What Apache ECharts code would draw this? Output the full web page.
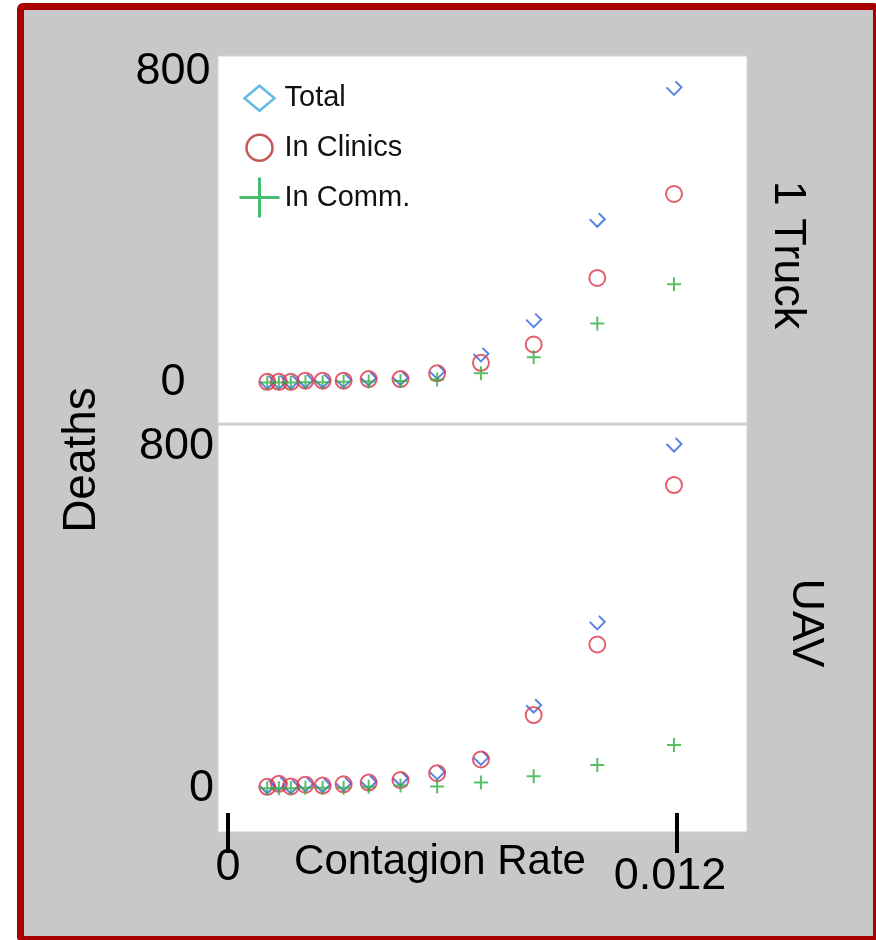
<!DOCTYPE html>
<html>
<head>
<meta charset="utf-8">
<script src="https://cdn.jsdelivr.net/npm/echarts@6.0.0/dist/echarts.min.js"></script>
<style>
  body { margin: 0; background: #fff; overflow: hidden; }
  #frame {
    position: absolute; left: 17px; top: 3px; width: 863px; height: 940px;
    box-sizing: border-box; border: 7px solid #a60000; border-radius: 6px;
    background: #c8c8ca;
  }
  #main { position: absolute; left: 0; top: 0; width: 876px; height: 940px; }
</style>
</head>
<body>
<div id="frame"></div>
<div id="main"></div>
<script>
// contagion rate (x) shared by both panels
var contagionRate = [0.00105, 0.00136, 0.00168, 0.00207, 0.00253, 0.00309, 0.00376, 0.00461, 0.00559, 0.00676, 0.00817, 0.00987, 0.01192];

// 1 Truck panel
var truckTotal   = [4, 4, 4, 7, 7, 8, 13, 14, 30, 75, 163, 421, 760];
var truckClinics = [3, 3, 3, 6, 6, 6, 10, 10, 25, 52, 99, 270, 486];
var truckComm    = [1, 1, 1, 2, 2, 3, 4, 5, 9, 25, 66, 153, 254];

// UAV panel
var uavTotal   = [7, 14, 7, 12, 10, 13, 17, 25, 40, 74, 196, 391, 807];
var uavClinics = [5, 12, 6, 10, 8, 11, 15, 21, 37, 69, 173, 338, 711];
var uavComm    = [2, 2, 2, 3, 3, 3, 5, 8, 6, 15, 30, 56, 103];

var yTicks = [0, 800];
var xTicks = [0, 0.012];

var font = 'Liberation Sans, Arial, sans-serif';

// marker shapes
var dataDiamond = 'path://M5,0M0,5L5,10L10,5L6,1';
var dataPlus = 'path://M0,5L10,5M5,0L5,10';
var legDiamond = 'path://M0,0M40,40M5,20L20,7.5L35,20L20,32.5Z';
var legCircle = 'path://M0,0M40,40M7,20A13,13,0,1,1,33,20A13,13,0,1,1,7,20Z';
var legPlus = 'path://M0,0M40,40M0,20L40,20M20,0L20,40';

function pts(ys) {
  return contagionRate.map(function (x, i) { return [x, ys[i]]; });
}

function scatter(name, ys, idx, symbol, size, color, width) {
  return {
    name: name,
    type: 'scatter',
    xAxisIndex: idx,
    yAxisIndex: idx,
    symbol: symbol,
    symbolSize: size,
    itemStyle: { color: 'rgba(0,0,0,0)', borderColor: color, borderWidth: width },
    data: pts(ys)
  };
}

var chart = echarts.init(document.getElementById('main'));

var xMin = -0.000267, xMax = 0.013871;

var option = {
  animation: false,
  backgroundColor: 'transparent',
  textStyle: { fontFamily: font },
  grid: [
    { left: 218, right: 129, top: 56, height: 367, show: true, backgroundColor: '#fff', borderColor: '#d6d6d6', borderWidth: 1 },
    { left: 218, right: 129, top: 425, height: 407, show: true, backgroundColor: '#fff', borderColor: '#d0d0d0', borderWidth: 1 }
  ],
  xAxis: [
    { gridIndex: 0, type: 'value', min: xMin, max: xMax, show: false },
    {
      // outer half of the thick ticks plus the labels
      gridIndex: 1, type: 'value', min: xMin, max: xMax, position: 'bottom',
      splitLine: { show: false },
      axisLine: { show: false, onZero: false },
      axisTick: { show: true, inside: false, customValues: xTicks, length: 21, lineStyle: { color: '#000', width: 4 } },
      axisLabel: {
        customValues: xTicks, margin: 13, verticalAlign: 'top',
        formatter: function (v) { return v === 0 ? '{a|0}' : '{b|' + v + '}'; },
        rich: {
          a: { fontSize: 45, lineHeight: 45, color: '#000', fontFamily: font },
          b: { fontSize: 45, lineHeight: 63, color: '#000', fontFamily: font, padding: [0, 14, 0, 0] }
        }
      }
    },
    {
      // inner half of the ticks
      gridIndex: 1, type: 'value', min: xMin, max: xMax, position: 'bottom',
      splitLine: { show: false },
      axisLine: { show: false, onZero: false },
      axisLabel: { show: false },
      axisTick: { show: true, inside: true, customValues: xTicks, length: 19, lineStyle: { color: '#000', width: 4 } }
    }
  ],
  yAxis: [
    {
      gridIndex: 0, type: 'value', min: -102.8, max: 840.6,
      splitLine: { show: false }, axisLine: { show: false }, axisTick: { show: false },
      axisLabel: { customValues: yTicks, align: 'center', margin: 45, fontSize: 45, color: '#000', fontFamily: font }
    },
    {
      gridIndex: 1, type: 'value', min: -100.6, max: 851.5,
      splitLine: { show: false }, axisLine: { show: false }, axisTick: { show: false },
      axisLabel: { customValues: yTicks, align: 'right', margin: 4, fontSize: 45, color: '#000', fontFamily: font }
    }
  ],
  legend: {
    orient: 'vertical',
    left: 238,
    top: 77,
    padding: 0,
    itemWidth: 40,
    itemHeight: 40,
    itemGap: 7,
    textStyle: { fontSize: 29, color: '#111', fontFamily: font },
    data: [
      { name: 'Total', icon: legDiamond, itemStyle: { color: 'rgba(0,0,0,0)', borderColor: '#3fa9dc', borderWidth: 2.5 } },
      { name: 'In Clinics', icon: legCircle, itemStyle: { color: 'rgba(0,0,0,0)', borderColor: '#b52f2f', borderWidth: 2.5 } },
      { name: 'In Comm.', icon: legPlus, itemStyle: { color: 'rgba(0,0,0,0)', borderColor: '#1aad4b', borderWidth: 3 } }
    ]
  },
  graphic: [
    { type: 'text', x: 82, y: 460, rotation: Math.PI / 2, style: { text: 'Deaths', fontSize: 46, fontFamily: font, fill: '#000', align: 'center', verticalAlign: 'middle' } },
    { type: 'text', x: 787, y: 255, rotation: -Math.PI / 2, style: { text: '1 Truck', fontSize: 45, fontFamily: font, fill: '#000', align: 'center', verticalAlign: 'middle' } },
    { type: 'text', x: 805, y: 623, rotation: -Math.PI / 2, style: { text: 'UAV', fontSize: 45, fontFamily: font, fill: '#000', align: 'center', verticalAlign: 'middle' } },
    { type: 'text', x: 440, y: 862, style: { text: 'Contagion Rate', fontSize: 42, fontFamily: font, fill: '#000', align: 'center', verticalAlign: 'middle' } }
  ],
  series: [
    scatter('Total', truckTotal, 0, dataDiamond, 15, '#2f63de', 2),
    scatter('In Clinics', truckClinics, 0, 'circle', 16, '#dc3648', 2),
    scatter('In Comm.', truckComm, 0, dataPlus, 14, '#2fae3e', 2),
    scatter('Total', uavTotal, 1, dataDiamond, 15, '#2f63de', 2),
    scatter('In Clinics', uavClinics, 1, 'circle', 16, '#dc3648', 2),
    scatter('In Comm.', uavComm, 1, dataPlus, 14, '#2fae3e', 2)
  ]
};

chart.setOption(option);
</script>
</body>
</html>
